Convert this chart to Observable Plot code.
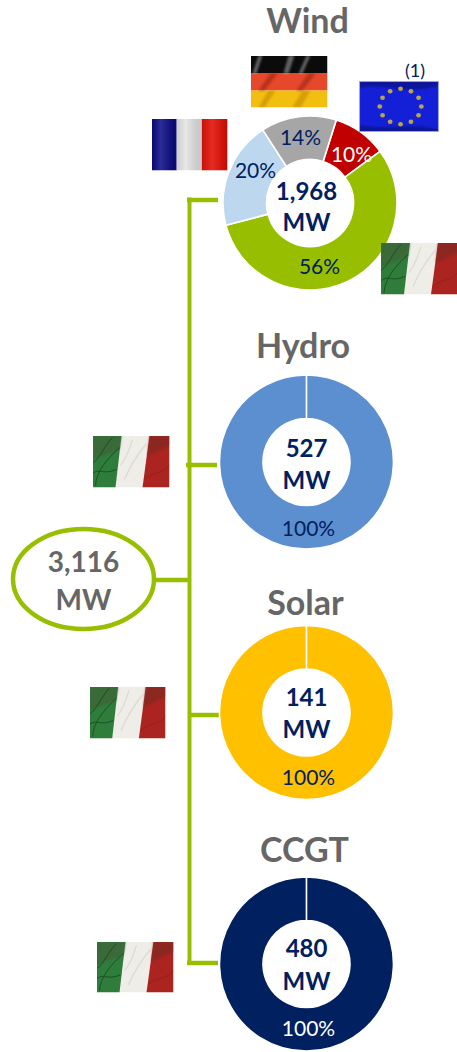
<!DOCTYPE html>
<html><head><meta charset="utf-8">
<style>html,body{margin:0;padding:0;background:#fff}svg{display:block}</style>
<script src="https://cdn.jsdelivr.net/npm/d3@7"></script>
<script src="https://cdn.jsdelivr.net/npm/@observablehq/plot@0.6"></script>
</head><body><script>
// ---- values
const technologies = ["Wind", "Hydro", "Solar", "CCGT"];
const capacityMW = [1968, 527, 141, 480];
const totalMW = 3116;
const windShares = [10, 56, 20, 14];
const windShareColors = ["#C00000", "#97BF00", "#BDD7EE", "#A6A6A6"];
const windShareText = ["#FFFFFF", "#002060", "#002060", "#002060"];
const singleShare = [100];
const techColors = ["#5B8FCF", "#FFC000", "#002060"];
const singleText = ["#002060", "#002060", "#FFFFFF"];

// ---- layout only
const W = 457, H = 1052, navy = "#002060", grey = "#666666", lime = "#97BF00";
const font = "Lato, Carlito, Calibri, sans-serif";
const R = 87, r = 43.5;
const centers = [[310, 203], [306.5, 462], [306.5, 712.5], [306.5, 964]];
const titleAt = [[307, 32], [302.5, 357], [305, 614], [304, 861]];
const valueY = [[199, 230], [456, 488], [705, 737], [956, 989]];
const windLabelAt = [[351, 161], [319, 273], [255, 177], [300, 144]];
const singleLabelAt = [[308, 535], [308, 784], [308, 1035]];
const windStart = 17.6 * Math.PI / 180;

const fmt = d3.format(",");
const rings = [
  {i: 0, values: windShares, colors: windShareColors, start: windStart},
  ...[1, 2, 3].map(i => ({i, values: singleShare, colors: [techColors[i - 1]], start: 0}))
].map(d => ({...d, x: centers[d.i][0], y: centers[d.i][1]}));

function ringRender(index, scales, values) {
  const g = d3.create("svg:g");
  const arc = d3.arc().innerRadius(r).outerRadius(R);
  for (const k of index) {
    const d = rings[k];
    const pie = d3.pie().sort(null).startAngle(d.start).endAngle(d.start + 2 * Math.PI - 0.0008)(d.values);
    pie.forEach((p, j) => g.append("path")
      .attr("transform", `translate(${values.x[k]},${values.y[k]})`)
      .attr("d", arc(p)).attr("fill", d.colors[j])
      .attr("stroke", "#fff").attr("stroke-width", 1.6).attr("stroke-linejoin", "round"));
  }
  return g.node();
}
function ellipseRender(index, scales, values) {
  return d3.create("svg:ellipse").attr("cx", values.x[0]).attr("cy", values.y[0])
    .attr("rx", 70.5).attr("ry", 50).attr("fill", "#fff")
    .attr("stroke", lime).attr("stroke-width", 4.5).node();
}

// ---- flag pictures
function uri(body) {
  return "data:image/svg+xml;charset=utf-8," + encodeURIComponent(
    `<svg xmlns="http://www.w3.org/2000/svg" viewBox="0 0 77 52" width="77" height="52" preserveAspectRatio="none">
    <defs><linearGradient id="s" x1="0" x2="1" y1="0" y2="0">
    <stop offset="0" stop-color="#000" stop-opacity=".12"/><stop offset=".12" stop-color="#fff" stop-opacity=".14"/>
    <stop offset=".3" stop-color="#000" stop-opacity=".12"/><stop offset=".45" stop-color="#fff" stop-opacity=".16"/>
    <stop offset=".62" stop-color="#000" stop-opacity=".12"/><stop offset=".8" stop-color="#fff" stop-opacity=".14"/>
    <stop offset="1" stop-color="#000" stop-opacity=".12"/></linearGradient>
    <filter id="b" x="-20%" y="-20%" width="140%" height="140%"><feGaussianBlur stdDeviation="1.2"/></filter>
    <filter id="c" x="-20%" y="-20%" width="140%" height="140%"><feGaussianBlur stdDeviation=".45"/></filter></defs>${body}</svg>`);
}
const italy = uri(`<rect width="77" height="52" fill="#EFEDE8"/>
 <path d="M0 0H29L23 52H0Z" fill="#2F7D3B"/><path d="M57 0H77V52H50Z" fill="#AB2420"/>
 <path d="M0 0H29L27 14L0 24Z" fill="#3F6238" opacity=".7" filter="url(#b)"/>
 <path d="M57 0H77V10L55 20Z" fill="#7E2A22" opacity=".7" filter="url(#b)"/>
 <g fill="none" stroke="#173A1E" stroke-width=".9" opacity=".75" filter="url(#c)"><path d="M0 28C8 22 12 10 20 2"/><path d="M3 50C4 36 14 24 27 12"/><path d="M0 38C8 32 10 40 24 34"/></g>
 <g fill="none" stroke="#CFCCC5" stroke-width="1.2" opacity=".6" filter="url(#c)"><path d="M32 44C38 30 44 20 54 8"/><path d="M28 30C34 22 36 16 40 4"/></g>
 <path d="M52 44C60 36 68 40 77 30" fill="none" stroke="#7E1F1A" stroke-width=".8" opacity=".6" filter="url(#c)"/>`);
const germany = uri(`<rect width="77" height="18" fill="#0B0B0B"/><rect y="17.5" width="77" height="17.5" fill="#E5482A"/><rect y="35" width="77" height="17" fill="#F2BE10"/>
 <g filter="url(#b)" fill="#fff" opacity=".35"><path d="M8 0L12 0L6 18L2 18Z"/><path d="M38 0L44 0L38 18L33 18Z"/><path d="M56 0L60 0L52 18L48 18Z"/></g>
 <g filter="url(#b)" fill="#8E1C08" opacity=".5"><path d="M20 18L27 18L14 35L8 35Z"/><path d="M58 18L65 18L52 35L46 35Z"/></g>
 <g filter="url(#b)" fill="#C58A00" opacity=".6"><path d="M18 35L25 35L14 52L8 52Z"/><path d="M52 35L60 35L50 52L42 52Z"/></g>`);
const france = uri(`<rect width="25.5" height="52" fill="#0A0A86"/><rect x="25.5" width="25.5" height="52" fill="#E4E4E4"/><rect x="51" width="26" height="52" fill="#E00A00"/>
 <rect width="77" height="52" fill="url(#s)"/>`);
const stars = d3.range(12).map(i => {
  const a = i * Math.PI / 6;
  return `<circle cx="${40 + 20 * Math.sin(a)}" cy="${26 - 18 * Math.cos(a)}" r="2.3" fill="#B9A448"/>`;
}).join("");
const eu = uri(`<rect width="77" height="52" fill="#1420D8"/>
 <g filter="url(#b)" opacity=".3"><path d="M0 8C20 0 50 16 77 4V0H0Z" fill="#000"/><path d="M0 44C20 52 50 40 77 50V52H0Z" fill="#000"/></g>
 <g filter="url(#c)">${stars}</g>
 <rect x=".5" y=".5" width="76" height="51" fill="none" stroke="#9DA6DE" stroke-width="1"/>`);
const flags = [
  {src: germany, x: 288.5, y: 81,    w: 77, h: 52},
  {src: eu,      x: 398.5, y: 106,   w: 80, h: 51},
  {src: france,  x: 189,   y: 144,   w: 76, h: 52},
  {src: italy,   x: 419,   y: 268,   w: 77, h: 52},
  {src: italy,   x: 130.5, y: 461,   w: 77, h: 52},
  {src: italy,   x: 127,   y: 712,   w: 76, h: 52},
  {src: italy,   x: 134.5, y: 966.5, w: 77, h: 51}
];

// ---- connector
const spine = [{x: 189, y1: 197.5, y2: 964.5}];
const branches = [
  {x1: 187, x2: 218, y: 199.5},
  {x1: 186, x2: 217, y: 464.5},
  {x1: 189, x2: 219, y: 714.5},
  {x1: 187, x2: 218, y: 962.5},
  {x1: 155, x2: 189, y: 579.5}
];

// ---- text
const titles = technologies.map((t, i) => ({t, x: titleAt[i][0], y: titleAt[i][1]}));
const values = capacityMW.flatMap((v, i) => [
  {t: fmt(v), x: 306, y: valueY[i][0]},
  {t: "MW", x: 306, y: valueY[i][1]}
]);
const pct = [
  ...windShares.map((v, i) => ({t: v + "%", x: windLabelAt[i][0], y: windLabelAt[i][1], c: windShareText[i]})),
  ...singleText.map((c, i) => ({t: singleShare[0] + "%", x: singleLabelAt[i][0], y: singleLabelAt[i][1], c}))
];
const total = [{t: fmt(totalMW), x: 83, y: 571}, {t: "MW", x: 83, y: 609}];

const textOpts = {x: "x", y: "y", text: "t", textAnchor: "middle", lineAnchor: "bottom", fontFamily: font};

document.body.append(Plot.plot({
  width: W, height: H, margin: 0,
  x: {domain: [0, W], range: [0, W], axis: null},
  y: {domain: [0, H], range: [0, H], axis: null},
  style: {background: "#fff", fontFamily: font},
  marks: [
    Plot.ruleY(branches, {x1: "x1", x2: "x2", y: "y", stroke: lime, strokeWidth: 4.5}),
    Plot.ruleX(spine, {x: "x", y1: "y1", y2: "y2", stroke: lime, strokeWidth: 4}),
    Plot.dot([{x: 83.5, y: 579}], {x: "x", y: "y", render: ellipseRender}),
    Plot.dot(rings, {x: "x", y: "y", render: ringRender}),
    Plot.image(flags, {x: "x", y: "y", src: "src", width: "w", height: "h", preserveAspectRatio: "none"}),
    Plot.text(titles, {...textOpts, fontSize: 34, fontWeight: 700, fill: grey}),
    Plot.text(values, {...textOpts, fontSize: 24, fontWeight: 700, fill: navy}),
    Plot.text(pct, {...textOpts, fontSize: 21, fill: "c"}),
    Plot.text(total, {...textOpts, fontSize: 28, fontWeight: 700, fill: grey}),
    Plot.text([{t: "(1)", x: 414.5, y: 76}], {...textOpts, fontSize: 18, fill: navy})
  ]
}));
</script></body></html>
